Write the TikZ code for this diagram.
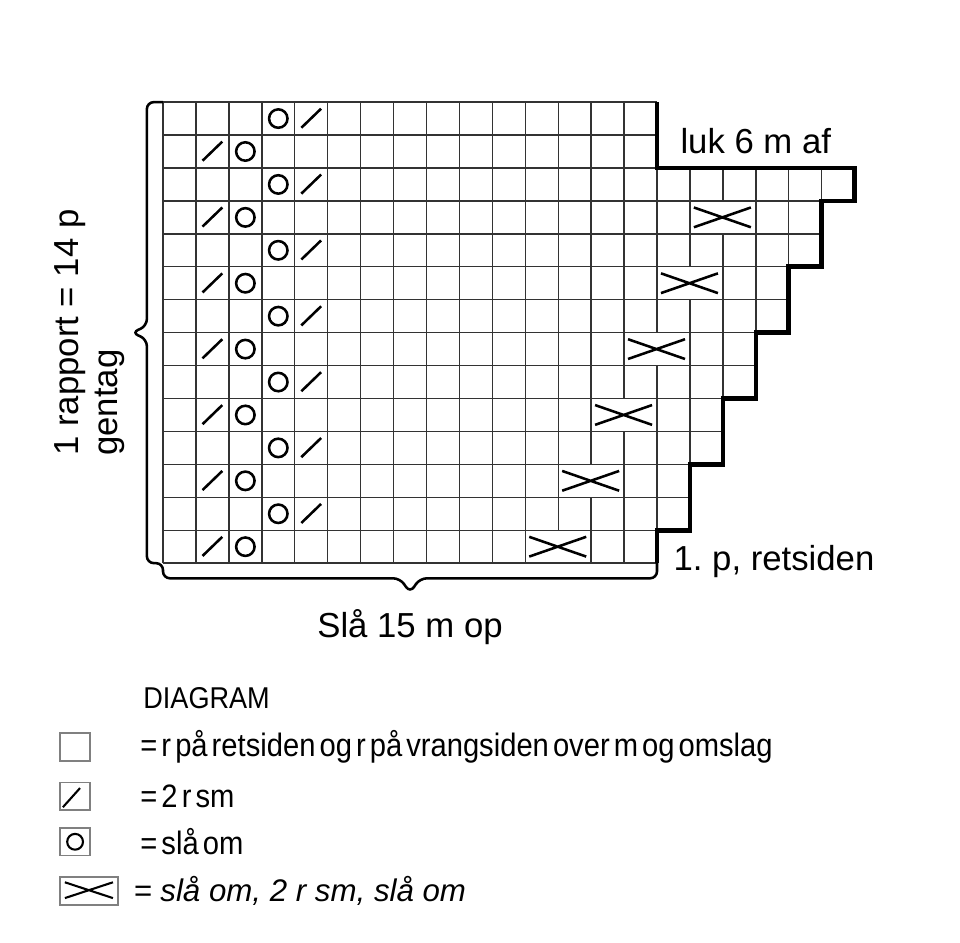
\documentclass[tikz,border=0pt]{standalone}
\usepackage{fontspec}
\setmainfont{Liberation Sans}
\newfontfamily\keyfont[FakeStretch=0.9,WordSpace=0.5]{Liberation Sans}

\begin{document}
\begin{tikzpicture}[scale=0.5,
		gridline/.style={line width=0.6pt, black!80},
		outline/.style={line width=2pt, line join=miter},
		bracket/.style={line width=1.1pt, rounded corners=3pt},
		stitch/.style={line width=1.1pt},
		label/.style={font=\fontsize{15}{17}\selectfont, inner sep=0pt},
		keybox/.style={draw=black!50, line width=0.7pt, inner sep=0pt, minimum width=13pt, minimum height=12pt},
		keytext/.style={font=\keyfont\fontsize{14}{16}\selectfont, inner sep=0pt, anchor=west}]

		\useasboundingbox (-4.95,-11.51) rectangle (24.2,17.1);

		\foreach \r/\w/\s in {1/15/12, 2/16/-1, 3/16/13, 4/17/-1, 5/17/14, 6/18/-1, 7/18/15, 8/19/-1, 9/19/16, 10/20/-1, 11/20/17, 12/21/-1, 13/15/-1, 14/15/-1}{
			\draw[gridline] (0,\r-1) -- (\w,\r-1) (0,\r) -- (\w,\r);
			\foreach \c in {0,...,\w}{
				\ifnum\c=\s\else\draw[gridline] (\c,\r-1) -- (\c,\r);\fi
			}
		}

		\foreach \y in {0,2,...,12}{
			\draw[stitch] (1.2,\y+0.22) -- (1.8,\y+0.8) (2.5,\y+0.5) circle (0.28);
			\draw[stitch] (3.5,\y+1.5) circle (0.28) (4.2,\y+1.22) -- (4.8,\y+1.8);
		}
		\foreach \y [evaluate=\y as \x using 11+\y/2] in {0,2,...,10}
			\draw[stitch] (\x+0.12,\y+0.2) -- (\x+1.85,\y+0.8) (\x+0.12,\y+0.8) -- (\x+1.85,\y+0.2);

		\draw[outline] (15,14) -- (15,12) -- (21,12) -- (21,11) -- (20,11) -- (20,9) -- (19,9) -- (19,7) -- (18,7) -- (18,5) -- (17,5) -- (17,3) -- (16,3) -- (16,1) -- (15,1) -- (15,0);
		\draw[bracket] (0,14) -- (-0.49,14) -- (-0.49,7.2) -- (-0.95,7) -- (-0.49,6.8) -- (-0.49,0) -- (0,0) -- (0,-0.46) -- (7.2,-0.46) -- (7.5,-0.9) -- (7.8,-0.46) -- (15,-0.46) -- (15,0);

		\node[label, anchor=base west] (close) at (15.7,12.45) {luk 6 m af};
		\node[label, anchor=base west] (first) at (15.49,-0.21) {1.\ p, retsiden};
		\node[label, anchor=base] (caston) at (7.5,-2.25) {Slå 15 m op};
		\node[label, rotate=90, align=left] (repeat) at (-2.22,7.0) {1 rapport = 14 p\\gentag};

		\node[keytext, anchor=base west, font=\keyfont\fontsize{13}{15}\selectfont] (head) at (-0.61,-4.40) {DIAGRAM};
		\node[keybox] (plain) at (-2.67,-5.58) {};
		\node[keybox] (dec) at (-2.67,-7.08) {};
		\node[keybox] (yo) at (-2.67,-8.46) {};
		\node[keybox, minimum width=25pt] (lace) at (-2.25,-9.95) {};
		\draw[stitch, line width=0.9pt] (-3.04,-7.41) -- (-2.52,-6.83);
		\draw[stitch, line width=0.9pt] (yo.center) circle (0.24);
		\draw[stitch, line width=0.9pt] (-2.98,-9.69) -- (-1.52,-10.17) (-2.98,-10.17) -- (-1.52,-9.69);
		\node[keytext] (plaintext) at (-0.7,-5.58) {= r på retsiden og r på vrangsiden over m og omslag};
		\node[keytext] (dectext) at (-0.7,-7.08) {= 2 r sm};
		\node[keytext] (yotext) at (-0.7,-8.46) {= slå om};
		\node[keytext, font=\itshape\fontsize{13.5}{16}\selectfont] (lacetext) at (-0.91,-9.95) {= slå om, 2 r sm, slå om};

	\end{tikzpicture}
\end{document}
